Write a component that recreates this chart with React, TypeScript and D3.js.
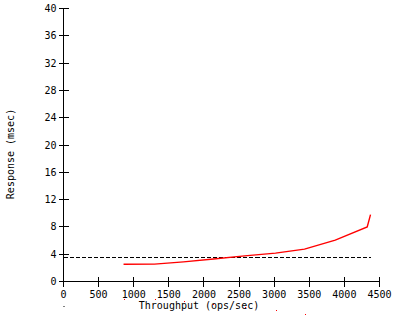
import React from "react";
import * as d3 from "d3";

const throughput = [855, 1296, 1709, 2136, 2580, 3019, 3432, 3870, 4325, 4372];
const response = [2.52, 2.55, 2.88, 3.3, 3.75, 4.15, 4.75, 6.05, 8.0, 9.8];
const threshold = 3.55;
const mirrorCount = 7;
const xTicks = [0, 500, 1000, 1500, 2000, 2500, 3000, 3500, 4000, 4500];
const yTicks = [0, 4, 8, 12, 16, 20, 24, 28, 32, 36, 40];
const xTitle = "Throughput (ops/sec)";
const yTitle = "Response (msec)";

const W = 400;
const H = 320;
const FONT = "'DejaVu Sans Mono', monospace";

export default function App() {
  const x = d3.scaleLinear().domain([0, 4500]).range([63.5, 379.5]);
  const y = d3.scaleLinear().domain([0, 40]).range([281.5, 8.5]);
  const pts = throughput.map((t, i) => [t, response[i]] as [number, number]);
  const line = d3
    .line<[number, number]>()
    .x((d) => x(d[0]))
    .y((d) => y(d[1]));
  const maxT = d3.max(throughput) as number;

  return (
    <svg
      width={W}
      height={H}
      style={{ position: "absolute", left: 0, top: 0, background: "#fff" }}
      fontFamily={FONT}
      fontSize={10}
    >
      <rect width={W} height={H} fill="#fff" />
      {/* axes */}
      <line x1={x(0)} x2={x(0)} y1={y(0)} y2={y(40)} stroke="#000" shapeRendering="crispEdges" />
      <line x1={x(0)} x2={x(4500)} y1={y(0)} y2={y(0)} stroke="#000" shapeRendering="crispEdges" />
      {yTicks.map((t) => (
        <g key={"y" + t}>
          <line x1={x(0) - 5} x2={x(0) + 5} y1={y(t)} y2={y(t)} stroke="#000" shapeRendering="crispEdges" />
          <text x={x(0) - 7} y={y(t)} dy="0.35em" textAnchor="end" fill="#000">
            {t}
          </text>
        </g>
      ))}
      {xTicks.map((t) => (
        <g key={"x" + t}>
          <line x1={x(t)} x2={x(t)} y1={y(0) - 5} y2={y(0) + 5} stroke="#000" shapeRendering="crispEdges" />
          <text x={x(t)} y={298} textAnchor="middle" fill="#000">
            {t}
          </text>
        </g>
      ))}
      <text x={199} y={309} textAnchor="middle" fill="#000">
        {xTitle}
      </text>
      <text transform="translate(14,154) rotate(-90)" textAnchor="middle" fill="#000">
        {yTitle}
      </text>
      {/* threshold */}
      <line
        x1={x(0)}
        x2={x(maxT)}
        y1={Math.round(y(threshold)) + 0.5}
        y2={Math.round(y(threshold)) + 0.5}
        stroke="#000"
        strokeDasharray="4,2"
        shapeRendering="crispEdges"
      />
      {/* response curve */}
      <path d={line(pts) || ""} fill="none" stroke="#f00" strokeWidth={1.4} />
      {/* mirrored stray points */}
      <rect x={Math.round(x(0)) - 0.5} y={Math.round(y(-threshold))} width={1} height={1} fill="#000" />
      {pts.slice(0, mirrorCount).map((d, i) => (
        <rect
          key={"m" + i}
          x={Math.round(x(d[0]))}
          y={Math.round(y(-d[1]))}
          width={1}
          height={1}
          fill="#f00"
        />
      ))}
    </svg>
  );
}
